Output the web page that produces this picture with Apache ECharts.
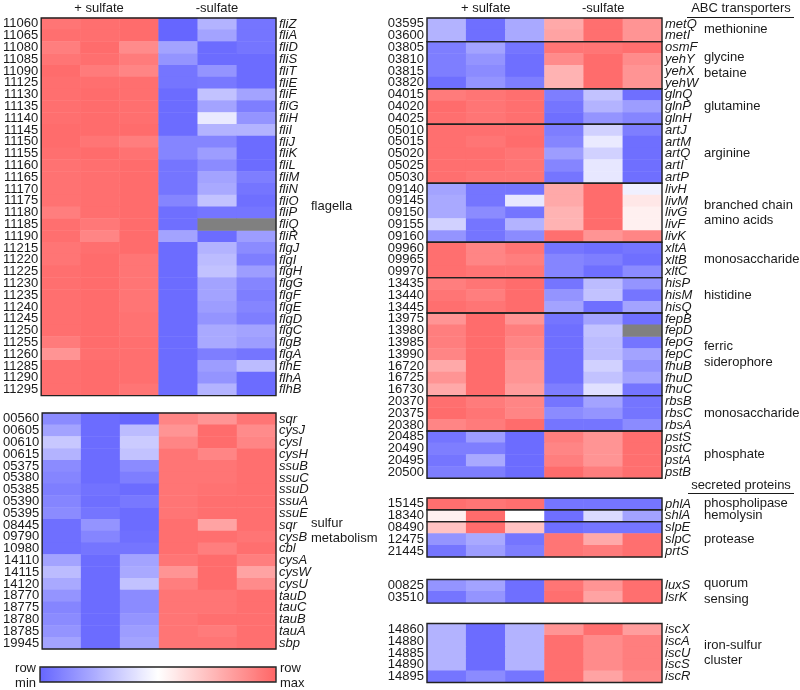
<!DOCTYPE html>
<html><head><meta charset="utf-8">
<script src="https://cdn.jsdelivr.net/npm/echarts@6/dist/echarts.min.js"></script>
<style>html,body{margin:0;padding:0;background:#fff}#c{width:800px;height:690px}</style>
</head><body><div id="c"></div>
<script>
// Columns: +sulfate x3, -sulfate x3. Values: 0 = row min (blue), 1 = row max (red), null = missing (grey)
const columns = ['+S1','+S2','+S3','-S1','-S2','-S3'];

const flagellaIds = ['11060','11065','11080','11085','11090','11125','11130','11135','11140','11145','11150','11155','11160','11165','11170','11175','11180','11185','11190','11215','11220','11225','11230','11235','11240','11245','11250','11255','11260','11285','11290','11295'];
const flagellaGenes = ['fliZ','fliA','fliD','fliS','fliT','fliE','fliF','fliG','fliH','fliI','fliJ','fliK','fliL','fliM','fliN','fliO','fliP','fliQ','fliR','flgJ','flgI','flgH','flgG','flgF','flgE','flgD','flgC','flgB','flgA','flhE','flhA','flhB'];
const flagellaVals = [
 [0.95,0.97,0.98,0.00,0.25,0.05],[0.97,0.97,0.98,0.00,0.20,0.05],[0.92,0.98,0.88,0.20,0.02,0.05],[0.95,0.97,0.93,0.15,0.02,0.02],
 [0.98,0.93,0.90,0.05,0.15,0.02],[0.97,0.97,0.97,0.05,0.06,0.02],[0.97,0.98,0.97,0.02,0.30,0.20],[0.97,0.98,0.97,0.02,0.20,0.08],
 [0.97,0.98,0.97,0.02,0.43,0.15],[0.98,0.98,0.98,0.02,0.25,0.25],[0.98,0.95,0.92,0.10,0.10,0.02],[0.97,0.98,0.96,0.10,0.18,0.02],
 [0.96,0.97,0.98,0.05,0.12,0.02],[0.96,0.97,0.98,0.05,0.20,0.08],[0.96,0.97,0.98,0.05,0.22,0.05],[0.96,0.97,0.98,0.10,0.30,0.03],
 [0.92,0.97,0.98,0.03,0.05,0.05],[0.97,0.94,0.98,0.03,null,null],[0.97,0.90,0.98,0.20,0.02,0.18],[0.95,0.97,0.98,0.02,0.25,0.12],
 [0.95,0.98,0.95,0.02,0.28,0.08],[0.97,0.98,0.95,0.02,0.30,0.18],[0.97,0.98,0.95,0.02,0.20,0.10],[0.97,0.98,0.95,0.02,0.20,0.08],
 [0.97,0.98,0.95,0.02,0.18,0.10],[0.97,0.98,0.96,0.02,0.15,0.08],[0.97,0.98,0.96,0.02,0.22,0.20],[0.93,0.98,0.97,0.02,0.22,0.18],
 [0.85,0.97,0.97,0.02,0.08,0.05],[0.97,0.98,0.97,0.02,0.18,0.28],[0.97,0.98,0.97,0.02,0.15,0.02],[0.97,0.98,0.95,0.02,0.25,0.02]];

const sulfurIds = ['00560','00605','00610','00615','05375','05380','05385','05390','05395','08445','09790','10980','14110','14115','14120','18770','18775','18780','18785','19945'];
const sulfurGenes = ['sqr','cysJ','cysI','cysH','ssuB','ssuC','ssuD','ssuA','ssuE','sqr','cysB','cbl','cysA','cysW','cysU','tauD','tauC','tauB','tauA','sbp'];
const sulfurVals = [
 [0.12,0.02,0.00,0.90,0.85,0.95],[0.20,0.02,0.28,0.85,0.98,0.88],[0.32,0.02,0.33,0.90,0.98,0.90],[0.25,0.02,0.30,0.95,0.90,0.97],
 [0.12,0.02,0.12,0.95,0.95,0.97],[0.10,0.02,0.08,0.95,0.95,0.97],[0.08,0.04,0.02,0.95,0.96,0.97],[0.10,0.03,0.06,0.95,0.97,0.97],
 [0.12,0.05,0.02,0.95,0.97,0.97],[0.03,0.15,0.02,0.97,0.80,0.97],[0.03,0.10,0.03,0.97,0.97,0.95],[0.03,0.05,0.05,0.97,0.92,0.97],
 [0.20,0.02,0.20,0.95,0.98,0.92],[0.28,0.02,0.22,0.85,0.98,0.80],[0.22,0.02,0.30,0.92,0.98,0.88],[0.15,0.02,0.12,0.95,0.95,0.97],
 [0.10,0.02,0.12,0.95,0.95,0.97],[0.12,0.02,0.15,0.95,0.97,0.97],[0.15,0.02,0.18,0.95,0.93,0.97],[0.20,0.02,0.20,0.95,0.95,0.97]];

// ABC transporter sub-groups
const methIds = ['03595','03600'];
const methGenes = ['metQ','metI'];
const methVals = [[0.25,0.03,0.22,0.78,0.97,0.85],[0.25,0.03,0.22,0.80,0.97,0.85]];
const glyIds = ['03805','03810','03815','03820'];
const glyGenes = ['osmF','yehY','yehX','yehW'];
const glyVals = [[0.08,0.20,0.05,0.95,0.95,0.97],[0.08,0.15,0.03,0.88,0.98,0.88],[0.08,0.12,0.03,0.75,0.98,0.85],[0.03,0.15,0.08,0.75,0.98,0.85]];
const glnIds = ['04015','04020','04025'];
const glnGenes = ['glnQ','glnP','glnH'];
const glnVals = [[0.93,0.95,0.97,0.08,0.30,0.03],[0.98,0.95,0.97,0.05,0.25,0.18],[0.97,0.95,0.97,0.03,0.15,0.10]];
const argIds = ['05010','05015','05020','05025','05030'];
const argGenes = ['artJ','artM','artQ','artI','artP'];
const argVals = [[0.97,0.97,0.97,0.08,0.35,0.08],[0.97,0.95,0.98,0.10,0.43,0.03],[0.97,0.97,0.95,0.18,0.35,0.03],[0.97,0.97,0.95,0.10,0.42,0.03],[0.97,0.95,0.95,0.05,0.42,0.03]];
const livIds = ['09140','09145','09150','09155','09160'];
const livGenes = ['livH','livM','livG','livF','livK'];
const livVals = [[0.20,0.05,0.05,0.78,0.98,0.45],[0.22,0.05,0.42,0.78,0.98,0.58],[0.22,0.12,0.05,0.75,0.98,0.55],[0.35,0.05,0.25,0.75,0.98,0.55],[0.15,0.05,0.12,0.97,0.85,0.90]];
const xltIds = ['09960','09965','09970'];
const xltGenes = ['xltA','xltB','xltC'];
const xltVals = [[0.97,0.90,0.95,0.05,0.03,0.05],[0.97,0.90,0.92,0.10,0.08,0.03],[0.97,0.95,0.95,0.10,0.03,0.12]];
const hisIds = ['13435','13440','13445'];
const hisGenes = ['hisP','hisM','hisQ'];
const hisVals = [[0.92,0.95,0.98,0.05,0.28,0.15],[0.95,0.92,0.98,0.15,0.30,0.05],[0.97,0.95,0.98,0.20,0.03,0.20]];
const fepIds = ['13975','13980','13985','13990','16720','16725','16730'];
const fepGenes = ['fepB','fepD','fepG','fepC','fhuB','fhuD','fhuC'];
const fepVals = [[0.85,0.98,0.85,0.05,0.20,0.03],[0.92,0.98,0.92,0.03,0.30,null],[0.92,0.98,0.90,0.03,0.28,0.05],[0.90,0.98,0.88,0.03,0.28,0.20],[0.78,0.98,0.85,0.03,0.35,0.15],[0.85,0.98,0.85,0.03,0.30,0.20],[0.78,0.98,0.82,0.08,0.40,0.05]];
const rbsIds = ['20370','20375','20380'];
const rbsGenes = ['rbsB','rbsC','rbsA'];
const rbsVals = [[0.97,0.93,0.90,0.05,0.20,0.05],[0.98,0.95,0.90,0.12,0.15,0.05],[0.90,0.93,0.98,0.05,0.05,0.12]];
const pstIds = ['20485','20490','20495','20500'];
const pstGenes = ['pstS','pstC','pstA','pstB'];
const pstVals = [[0.05,0.18,0.02,0.92,0.85,0.97],[0.08,0.08,0.02,0.90,0.85,0.97],[0.05,0.22,0.02,0.92,0.85,0.97],[0.08,0.08,0.02,0.98,0.92,0.97]];

// secreted proteins
const phlIds = ['15145']; const phlGenes = ['phlA']; const phlVals = [[0.97,0.95,0.97,0.05,0.05,0.05]];
const shlIds = ['18340']; const shlGenes = ['shlA']; const shlVals = [[0.55,0.98,0.50,0.03,0.38,0.20]];
const protIds = ['08490','12475','21445']; const protGenes = ['slpE','slpC','prtS'];
const protVals = [[0.70,0.98,0.70,0.03,0.05,0.05],[0.15,0.22,0.05,0.95,0.78,0.97],[0.05,0.18,0.08,0.95,0.93,0.97]];

const quorumIds = ['00825','03510']; const quorumGenes = ['luxS','lsrK'];
const quorumVals = [[0.15,0.20,0.03,0.95,0.85,0.97],[0.05,0.15,0.03,0.97,0.80,0.97]];

const iscIds = ['14860','14880','14885','14890','14895']; const iscGenes = ['iscX','iscA','iscU','iscS','iscR'];
const iscVals = [[0.25,0.02,0.25,0.85,0.97,0.82],[0.25,0.02,0.25,0.97,0.88,0.92],[0.25,0.02,0.25,0.97,0.88,0.92],[0.25,0.02,0.25,0.97,0.88,0.92],[0.05,0.12,0.05,0.97,0.80,0.90]];

// ---- layout ----
const FONT = 'Liberation Sans, Arial, sans-serif';
const ROW = 11.8;
const LX = 40, RX = 427, W = 236, RW = 235;
const panels = [
  {x:LX, w:W, top:18, ids:flagellaIds, genes:flagellaGenes, vals:flagellaVals, label:'flagella'},
  {x:LX, w:W, top:413, ids:sulfurIds, genes:sulfurGenes, vals:sulfurVals, label:'sulfur\nmetabolism'},
];
let t = 18;
[[methIds,methGenes,methVals,'methionine'],[glyIds,glyGenes,glyVals,'glycine\nbetaine'],[glnIds,glnGenes,glnVals,'glutamine'],
 [argIds,argGenes,argVals,'arginine'],[livIds,livGenes,livVals,'branched chain\namino acids'],[xltIds,xltGenes,xltVals,'monosaccharide'],
 [hisIds,hisGenes,hisVals,'histidine'],[fepIds,fepGenes,fepVals,'ferric\nsiderophore'],[rbsIds,rbsGenes,rbsVals,'monosaccharide'],
 [pstIds,pstGenes,pstVals,'phosphate']].forEach(g => {
  panels.push({x:RX, w:RW, top:t, ids:g[0], genes:g[1], vals:g[2], label:g[3]});
  t += g[0].length * ROW;
});
t = 498;
[[phlIds,phlGenes,phlVals,'phospholipase'],[shlIds,shlGenes,shlVals,'hemolysin'],[protIds,protGenes,protVals,'protease']].forEach(g => {
  panels.push({x:RX, w:RW, top:t, ids:g[0], genes:g[1], vals:g[2], label:g[3]});
  t += g[0].length * ROW;
});
panels.push({x:RX, w:RW, top:579.5, ids:quorumIds, genes:quorumGenes, vals:quorumVals, label:'quorum\nsensing'});
panels.push({x:RX, w:RW, top:623.5, ids:iscIds, genes:iscGenes, vals:iscVals, label:'iron-sulfur\ncluster'});

const grid = [], xAxis = [], yAxis = [], series = [], mainIdx = [], graphic = [];
panels.forEach((p, i) => {
  const h = p.ids.length * ROW;
  grid.push({left:p.x, top:p.top, width:p.w, height:h, show:true, borderColor:'#222', borderWidth:1.4, backgroundColor:'transparent', z:10});
  xAxis.push({type:'category', gridIndex:i, data:columns, show:false});
  yAxis.push({type:'category', gridIndex:i, data:p.ids, inverse:true, position:'left',
    axisLine:{show:false}, axisTick:{show:false},
    axisLabel:{fontSize:13, color:'#1a1a1a', margin:3, fontFamily:FONT, interval:0}});
  yAxis.push({type:'category', gridIndex:i, data:p.genes, inverse:true, position:'right',
    axisLine:{show:false}, axisTick:{show:false},
    axisLabel:{fontSize:13, color:'#1a1a1a', margin:3, fontFamily:FONT, fontStyle:'italic', interval:0}});
  const data = [], miss = [];
  p.vals.forEach((row, r) => row.forEach((v, c) => {
    if (v === null) miss.push([c, r, 0]); else data.push([c, r, v]);
  }));
  mainIdx.push(series.length);
  series.push({type:'heatmap', xAxisIndex:i, yAxisIndex:2*i, data:data, silent:true, itemStyle:{borderWidth:0}});
  if (miss.length) series.push({type:'heatmap', xAxisIndex:i, yAxisIndex:2*i, data:miss, silent:true, itemStyle:{color:'#808080'}});
  const labX = p.x === LX ? 311 : 704;
  graphic.push({type:'text', left:labX, top:p.top + h/2, style:{text:p.label, font:'13px ' + FONT, fill:'#1a1a1a', lineHeight:15.5, textVerticalAlign:'middle', verticalAlign:'middle'}});
});

function header(x, y, s, align) {
  return {type:'text', x:x, y:y, style:{text:s, font:'13px ' + FONT, fill:'#1a1a1a', textAlign:align||'center', textVerticalAlign:'middle', align:align||'center', verticalAlign:'middle'}};
}
graphic.length = 0;
panels.forEach(p => {
  const h = p.ids.length * ROW;
  const labX = p.x === LX ? 311 : 704;
  graphic.push(header(labX, p.top + h/2, p.label, 'left'));
  graphic[graphic.length-1].style.lineHeight = 15.5;
});
graphic.push(header(LX + W/4, 8, '+ sulfate'), header(LX + 3*W/4, 8, '-sulfate'));
graphic.push(header(RX + RW/4, 8, '+ sulfate'), header(RX + 3*RW/4, 8, '-sulfate'));
graphic.push(header(741, 8, 'ABC transporters'));
graphic.push({type:'line', shape:{x1:687, y1:17.5, x2:794, y2:17.5}, style:{stroke:'#1a1a1a', lineWidth:1}});
graphic.push(header(741, 485, 'secreted proteins'));
graphic.push({type:'line', shape:{x1:688, y1:493.5, x2:794, y2:493.5}, style:{stroke:'#1a1a1a', lineWidth:1}});
// colour bar labels and frame
graphic.push(header(36, 668, 'row', 'right'), header(36, 683, 'min', 'right'));
graphic.push(header(280, 668, 'row', 'left'), header(280, 683, 'max', 'left'));
graphic.push({type:'rect', shape:{x:LX, y:667, width:W, height:15}, style:{fill:'none', stroke:'#222', lineWidth:1.4}, z:20});

const chart = echarts.init(document.getElementById('c'), null, {renderer:'canvas'});
chart.setOption({
  animation:false,
  backgroundColor:'#fff',
  textStyle:{fontFamily:FONT},
  grid, xAxis, yAxis, series,
  visualMap:{type:'continuous', min:0, max:1, seriesIndex:mainIdx, orient:'horizontal', left:LX, top:667,
    itemWidth:15, itemHeight:W, padding:0, text:['',''], showLabel:false, calculable:false, hoverLink:false,
    inRange:{color:['#6666ff','#ffffff','#ff6666']}},
  graphic
});
</script></body></html>
